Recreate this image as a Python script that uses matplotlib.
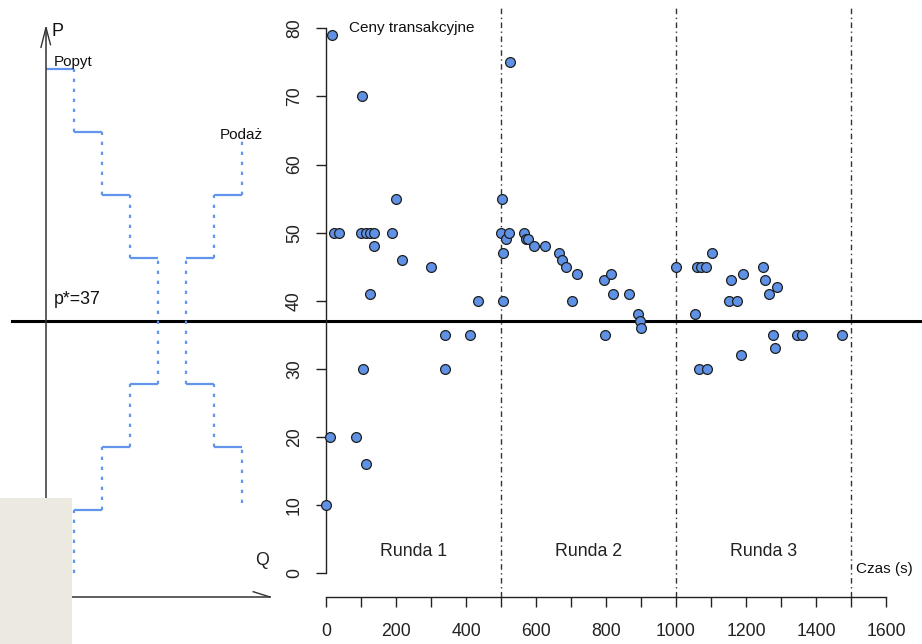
import matplotlib
matplotlib.use("Agg")
import matplotlib.pyplot as plt
from matplotlib.patches import Rectangle
import matplotlib.transforms as mtransforms

plt.rcParams['font.family'] = ['Liberation Sans', 'DejaVu Sans']

# ---------------- data ----------------
# transaction prices: time (s) and price
times = [0, 11, 17, 22, 37, 86, 101, 102, 106, 113, 114, 126, 126, 138, 138, 188, 201, 218, 300, 341, 341, 410, 433,
         500, 502, 505, 505, 515, 522, 525, 565, 571, 578, 593, 625, 665, 675, 686, 702, 716, 795, 798, 815, 819, 866, 890, 897, 901,
         999, 1053, 1061, 1065, 1071, 1085, 1089, 1104, 1152, 1156, 1173, 1186, 1190, 1248, 1254, 1265, 1276, 1283, 1289, 1347, 1359, 1473]
prices = [10, 20, 79, 50, 50, 20, 50, 70, 30, 16, 50, 50, 41, 50, 48, 50, 55, 46, 45, 35, 30, 35, 40,
          50, 55, 47, 40, 49, 50, 75, 50, 49, 49, 48, 48, 47, 46, 45, 40, 44, 43, 35, 44, 41, 41, 38, 37, 36,
          45, 38, 45, 30, 45, 45, 30, 47, 40, 43, 40, 32, 44, 45, 43, 41, 35, 33, 42, 35, 35, 35]

p_star = 37
round_bounds = [500, 1000, 1500]
round_labels = ["Runda 1", "Runda 2", "Runda 3"]
round_label_x = [250, 750, 1250]

x_ticks = list(range(0, 1700, 100))
x_tick_labels = [str(v) if v % 200 == 0 else "" for v in x_ticks]
y_ticks = [0, 10, 20, 30, 40, 50, 60, 70, 80]

# schematic demand / supply staircases (price levels per unit step of Q)
demand_upper = [74.0, 64.75, 55.5, 46.25]   # Q intervals 0-1, 1-2, 2-3, 3-4
demand_lower = [9.25, 18.5, 27.75]          # Q intervals 1-2, 2-3, 3-4
supply_upper = [46.25, 55.5]                # Q intervals 5-6, 6-7
supply_lower = [27.75, 18.5]                # Q intervals 5-6, 6-7
supply_upper_end = 63.8
supply_lower_end = 10.3
demand_lower_end = 0.0

# ---------------- figure ----------------
W, H = 922, 644
fig = plt.figure(figsize=(W / 100, H / 100), dpi=100)
fig.patch.set_facecolor('white')

px_left, px_right = 326, 886
px_bottom, px_top = 597, 6.7
y0_px = 573.3
ppu = 6.8125
ylo = -(px_bottom - y0_px) / ppu
yhi = (y0_px - px_top) / ppu

ax = fig.add_axes([px_left / W, (H - px_bottom) / H, (px_right - px_left) / W, (px_bottom - px_top) / H])
ax.set_xlim(0, 1600)
ax.set_ylim(ylo, yhi)
ax.patch.set_alpha(0)
for s in ['top', 'right']:
    ax.spines[s].set_visible(False)
ax.spines['left'].set_bounds(0, 80)
ax.spines['bottom'].set_bounds(0, 1600)
for s in ['left', 'bottom']:
    ax.spines[s].set_color('#222222')
    ax.spines[s].set_linewidth(1.0)

ax.set_xticks(x_ticks)
ax.set_xticklabels(x_tick_labels)
ax.set_yticks(y_ticks)
ax.set_yticklabels([str(v) for v in y_ticks], rotation=90, va='center')
ax.tick_params(axis='x', length=7.5, width=1.0, color='#222222', labelsize=12.7, labelcolor='#222222', pad=11)
ax.tick_params(axis='y', length=7.5, width=1.0, color='#222222', labelsize=12.7, labelcolor='#222222', pad=9)

for xb in round_bounds:
    ax.axvline(xb, color='#333333', lw=1.0, ls=(0, (4, 2.5, 1, 2.5)), zorder=1)

# p* line across whole figure
trans = mtransforms.blended_transform_factory(fig.transFigure, ax.transData)
ax.plot([12 / W, 1.0], [p_star, p_star], transform=trans, color='black', lw=2.2, clip_on=False, zorder=2)

ax.scatter(times, prices, s=50, facecolor='#5f92e6', edgecolor='#1e1e1e', linewidth=0.9, zorder=3, clip_on=False)

ax.text(66, 79.4, "Ceny transakcyjne", fontsize=11, ha='left', va='baseline', color='#111111')
for xl, lab in zip(round_label_x, round_labels):
    ax.text(xl, 2.55, lab, fontsize=12.8, ha='center', va='baseline', color='#222222')
ax.text(1514, 0.0, "Czas (s)", fontsize=11, ha='left', va='baseline', color='#111111')

# ---------------- left schematic panel ----------------
axl = fig.add_axes([0, (H - px_bottom) / H, px_left / W, (px_bottom - px_top) / H])
axl.set_xlim(-46 / 28, (px_left - 46) / 28)
axl.set_ylim(ylo, yhi)
axl.axis('off')

c_step = '#6495ED'
dot = (0, (1.5, 3))

# demand upper
for i, p in enumerate(demand_upper):
    axl.hlines(p, i, i + 1, color=c_step, lw=1.6)
for i in range(len(demand_upper) - 1):
    axl.vlines(i + 1, demand_upper[i + 1], demand_upper[i], color=c_step, lw=1.6, linestyles=dot)
axl.vlines(len(demand_upper), demand_lower[-1], demand_upper[-1], color=c_step, lw=1.6, linestyles=dot)
# demand lower
for i, p in enumerate(demand_lower):
    axl.hlines(p, i + 1, i + 2, color=c_step, lw=1.6)
for i in range(len(demand_lower) - 1):
    axl.vlines(i + 2, demand_lower[i], demand_lower[i + 1], color=c_step, lw=1.6, linestyles=dot)
axl.vlines(1, demand_lower_end, demand_lower[0], color=c_step, lw=1.6, linestyles=dot)

# supply upper
for i, p in enumerate(supply_upper):
    axl.hlines(p, 5 + i, 6 + i, color=c_step, lw=1.6)
axl.vlines(5, supply_lower[0], supply_upper[0], color=c_step, lw=1.6, linestyles=dot)
axl.vlines(6, supply_upper[0], supply_upper[1], color=c_step, lw=1.6, linestyles=dot)
axl.vlines(7, supply_upper[1], supply_upper_end, color=c_step, lw=1.6, linestyles=dot)
# supply lower
for i, p in enumerate(supply_lower):
    axl.hlines(p, 5 + i, 6 + i, color=c_step, lw=1.6)
axl.vlines(6, supply_lower[1], supply_lower[0], color=c_step, lw=1.6, linestyles=dot)
axl.vlines(7, supply_lower_end, supply_lower[1], color=c_step, lw=1.6, linestyles=dot)

# P and Q axes with arrows
ax_col = '#333333'
p_top = 80.1
axl.plot([0, 0], [ylo, p_top], color=ax_col, lw=1.1)
axl.plot([-0.18, 0, 0.16], [77.2, p_top, 77.6], color=ax_col, lw=1.0)
q_end = 8.0
axl.plot([0, q_end], [ylo, ylo], color=ax_col, lw=1.1, clip_on=False)
axl.plot([q_end - 0.6, q_end], [ylo + 0.78, ylo], color=ax_col, lw=1.0, clip_on=False)

axl.text(0.18, 78.9, "P", fontsize=13, ha='left', va='baseline', color='#111111')
axl.text(0.29, 74.5, "Popyt", fontsize=11, ha='left', va='baseline', color='#111111')
axl.text(6.21, 63.7, "Podaż", fontsize=11, ha='left', va='baseline', color='#111111')
axl.text(0.29, 39.5, "p*=37", fontsize=12.8, ha='left', va='baseline', color='#111111')
axl.text(7.46, 1.2, "Q", fontsize=12.8, ha='left', va='baseline', color='#222222')

# beige overlay box in lower-left corner
fig.patches.append(Rectangle((0, 0), 72 / W, (H - 498) / H, transform=fig.transFigure,
                             facecolor='#ECE9E0', edgecolor='none', zorder=10))

fig.savefig('out.png', dpi=100)
